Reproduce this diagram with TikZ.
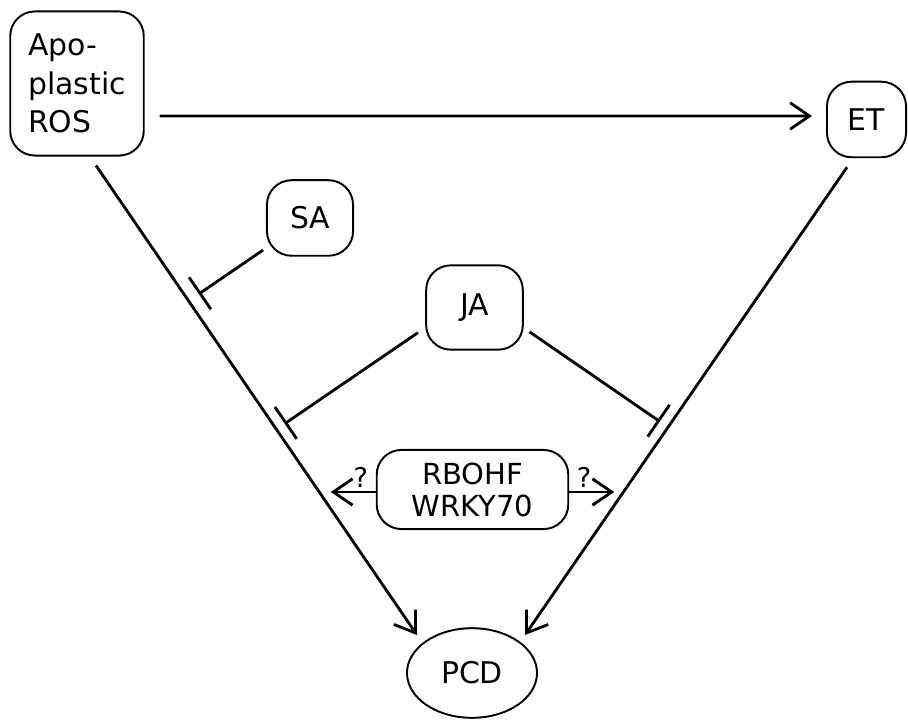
\documentclass[tikz,border=0pt]{standalone}
\usepackage{fontspec}
\setsansfont{DejaVu Sans}
\usetikzlibrary{shapes.geometric, arrows.meta, positioning, calc}

\begin{document}
\begin{tikzpicture}[
    signal/.style={
        rectangle,
        rounded corners=14pt,
        draw=black,
        line width=1.1pt,
        font=\sffamily\fontsize{17}{22}\selectfont,
        inner sep=0pt
    },
    endpoint/.style={
        ellipse,
        draw=black,
        line width=1.1pt,
        font=\sffamily\fontsize{17}{22}\selectfont,
        inner sep=0pt,
        minimum width=74pt,
        minimum height=51pt
    },
    induce/.style={
        -{Straight Barb[length=11pt, width=15pt]},
        line width=1.6pt
    },
    inhibit/.style={
        -{Bar[width=22pt]},
        line width=1.6pt
    },
    unknown/.style={
        font=\sffamily\fontsize{15.5}{17}\selectfont,
        inner sep=0.5pt
    }
]

\useasboundingbox (0,0) rectangle (18.16,14.4);

% Signals
\node[signal, align=left, minimum width=76pt, minimum height=82pt] (ros) at (1.54,12.73) {Apo-\\plastic\\ROS};
\node[signal, minimum width=45pt, minimum height=43pt] (et) at (17.33,12.01) {ET};
\node[signal, minimum width=49pt, minimum height=43pt] (sa) at (6.20,10.04) {SA};
\node[signal, minimum width=55pt, minimum height=48pt] (ja) at (9.49,8.25) {JA};
\node[signal, align=center, minimum width=109pt, minimum height=45pt,
      font=\sffamily\fontsize{16.5}{18.2}\selectfont] (rb) at (9.45,4.61) {RBOHF\\WRKY70};
\node[endpoint] (pcd) at (9.44,0.94) {PCD};

% Anchor points of the long edges
\coordinate (rosout) at ([shift={(0.38,-0.18)}]ros.south);
\coordinate (etout) at ([shift={(-0.39,-0.18)}]et.south);
\coordinate (pcdl) at ([shift={(-1.10,0.76)}]pcd.center);
\coordinate (pcdr) at ([shift={(1.06,0.76)}]pcd.center);
\coordinate (jasrc) at ([yshift=0.27cm]ja.center);
\coordinate (qleft) at ([shift={(-0.9,-0.05)}]rb.west);
\coordinate (qright) at ([shift={(0.9,-0.05)}]rb.east);

% Induction
\draw[induce] ([shift={(0.30,-0.65)}]ros.east) -- ([shift={(-0.28,0.07)}]et.west);
\draw[induce] (rosout) -- (pcdl);
\draw[induce] (etout) -- (pcdr);

% Inhibition
\draw[inhibit, shorten <=2pt, shorten >=7pt] (sa) -- ($(rosout)!(sa)!(pcdl)$);
\draw[inhibit, shorten <=39pt, shorten >=5.7pt] (jasrc) -- ($(rosout)!(jasrc)!(pcdl)$);
\draw[inhibit, shorten <=38pt, shorten >=5.7pt] (jasrc) -- ($(etout)!(jasrc)!(pcdr)$);

% Unknown links
\draw[induce] ([yshift=-0.05cm]rb.west) -- (qleft) node[unknown, pos=0.33, above=1pt] {?};
\draw[induce] ([yshift=-0.05cm]rb.east) -- (qright) node[unknown, pos=0.33, above=1pt] {?};

\end{tikzpicture}
\end{document}
